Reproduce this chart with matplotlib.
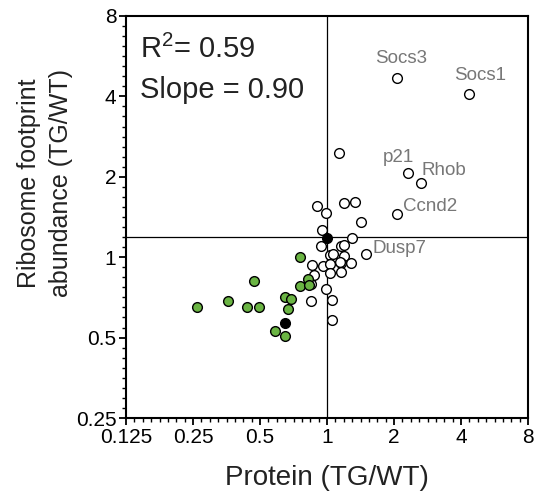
import matplotlib
matplotlib.use('Agg')
import matplotlib.pyplot as plt
import numpy as np
from matplotlib import ticker

plt.rcParams['font.family'] = ['Liberation Sans', 'DejaVu Sans']
plt.rcParams['mathtext.fontset'] = 'custom'
plt.rcParams['mathtext.rm'] = 'Liberation Sans'

# open circles (protein, footprint)
open_x = [2.06, 4.36, 2.30, 2.63, 2.06, 1.49, 1.13,
          1.19, 1.34, 1.42, 1.29, 0.90, 0.99, 0.95, 0.94,
          1.15, 1.19, 1.03, 1.06, 1.19,
          0.86, 0.956, 1.035, 1.15, 1.14, 1.28,
          1.035, 1.15, 0.874, 0.845, 0.987,
          0.847, 1.05, 1.05]
open_y = [4.67, 4.10, 2.07, 1.89, 1.45, 1.026, 2.46,
          1.59, 1.61, 1.35, 1.185, 1.56, 1.46, 1.26, 1.106,
          1.10, 1.11, 1.02, 1.03, 1.01,
          0.936, 0.928, 0.944, 0.952, 0.963, 0.955,
          0.874, 0.884, 0.858, 0.797, 0.763,
          0.684, 0.690, 0.584]

# green circles
green_x = [0.26, 0.359, 0.437, 0.47, 0.493, 0.582, 0.65, 0.69, 0.666, 0.65,
           0.756, 0.754, 0.822, 0.83]
green_y = [0.652, 0.686, 0.65, 0.815, 0.65, 0.53, 0.707, 0.698, 0.641, 0.506,
           1.0, 0.781, 0.827, 0.79]

# black circles
black_x = [1.0, 0.646]
black_y = [1.175, 0.565]

# gene labels
gene_names = ['Socs3', 'Socs1', 'p21', 'Rhob', 'Ccnd2', 'Dusp7']
gene_x = [2.15, 4.87, 2.10, 2.66, 2.19, 1.60]
gene_y = [5.56, 4.80, 2.37, 2.12, 1.55, 1.08]
gene_ha = ['center', 'center', 'center', 'left', 'left', 'left']

xticks = [0.125, 0.25, 0.5, 1, 2, 4, 8]
xticklabels = ['0.125', '0.25', '0.5', '1', '2', '4', '8']
yticks = [0.25, 0.5, 1, 2, 4, 8]
yticklabels = ['0.25', '0.5', '1', '2', '4', '8']

hline_y = 1.19
vline_x = 1.0

fig = plt.figure(figsize=(5.34, 5.0), dpi=100)
ax = fig.add_axes([0.236, 0.164, 0.753, 0.804])

ax.set_xscale('log', base=2)
ax.set_yscale('log', base=2)
ax.set_xlim(0.125, 8)
ax.set_ylim(0.25, 8)

ax.axhline(hline_y, color='black', lw=0.9, zorder=1)
ax.axvline(vline_x, color='black', lw=0.9, zorder=1)

ms = 7.0
ax.plot(open_x, open_y, 'o', ms=ms, mfc='white', mec='black', mew=1.0, zorder=3)
ax.plot(green_x, green_y, 'o', ms=ms, mfc='#6ab443', mec='black', mew=1.0, zorder=3)
ax.plot(black_x, black_y, 'o', ms=ms, mfc='black', mec='black', mew=1.0, zorder=4)

for name, gx, gy, ha in zip(gene_names, gene_x, gene_y, gene_ha):
    ax.text(gx, gy, name, ha=ha, va='center', fontsize=13.5, color='#777777')

ax.text(0.035, 0.896, 'R$^2$= 0.59', transform=ax.transAxes, fontsize=21,
        ha='left', va='baseline', color='#222222')
ax.text(0.035, 0.796, 'Slope = 0.90', transform=ax.transAxes, fontsize=21,
        ha='left', va='baseline', color='#222222')

ax.set_xticks(xticks)
ax.set_xticklabels(xticklabels)
ax.set_yticks(yticks)
ax.set_yticklabels(yticklabels)
minor = [2.0 ** (k / 8) for k in range(-24, 25) if k % 8 != 0]
ax.xaxis.set_minor_locator(ticker.FixedLocator(minor))
ax.yaxis.set_minor_locator(ticker.FixedLocator(minor))
ax.xaxis.set_minor_formatter(ticker.NullFormatter())
ax.yaxis.set_minor_formatter(ticker.NullFormatter())

ax.tick_params(which='major', direction='out', length=5, width=1.3, labelsize=15, pad=2)
ax.tick_params(which='minor', direction='out', length=3, width=1.0)
for s in ax.spines.values():
    s.set_linewidth(1.5)

ax.set_xlabel('Protein (TG/WT)', fontsize=20, color='#222222')
ax.xaxis.set_label_coords(0.5, -0.117)
ax.set_ylabel('Ribosome footprint\nabundance (TG/WT)', fontsize=18,
              linespacing=1.4, color='#222222')
ax.yaxis.set_label_coords(-0.132, 0.585)

fig.savefig('out.png', dpi=100)
